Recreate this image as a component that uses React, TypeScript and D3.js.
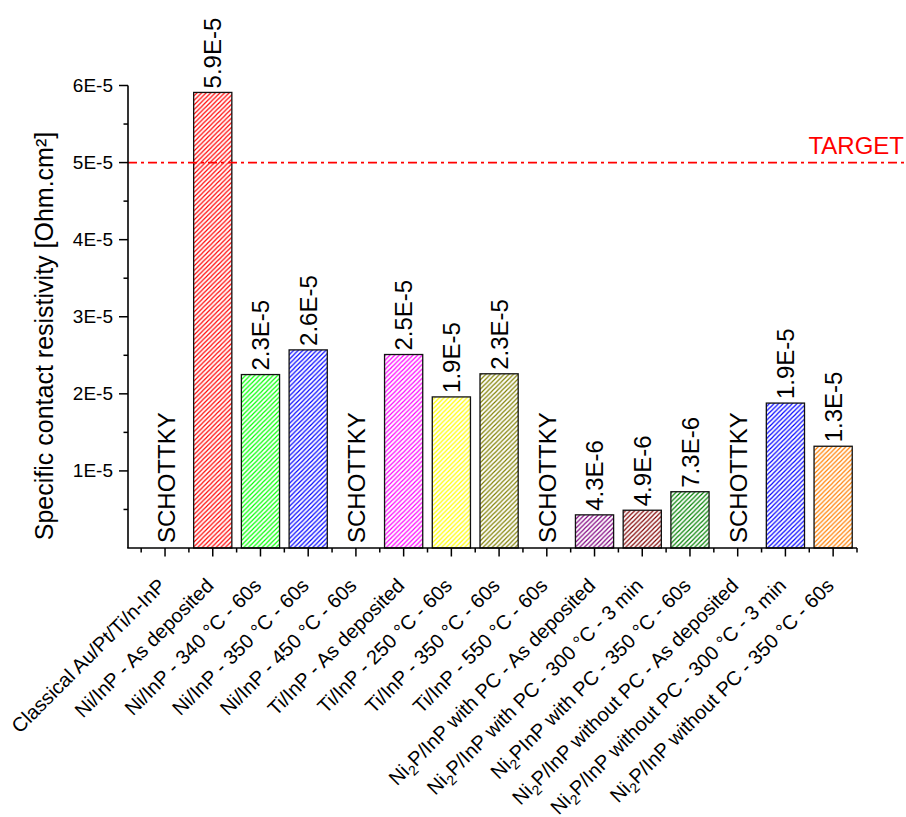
import React from "react";
import * as d3 from "d3";

const categories: string[] = [
  "Classical Au/Pt/Ti/n-InP",
  "Ni/InP - As deposited",
  "Ni/InP - 340 °C - 60s",
  "Ni/InP - 350 °C - 60s",
  "Ni/InP - 450 °C - 60s",
  "Ti/InP - As deposited",
  "Ti/InP - 250 °C - 60s",
  "Ti/InP - 350 °C - 60s",
  "Ti/InP - 550 °C - 60s",
  "Ni2P/InP with PC - As deposited",
  "Ni2P/InP with PC - 300 °C - 3 min",
  "Ni2PInP with PC - 350 °C - 60s",
  "Ni2P/InP without PC - As deposited",
  "Ni2P/InP without PC - 300 °C - 3 min",
  "Ni2P/InP without PC - 350 °C - 60s",
];

// null = Schottky behaviour (no bar)
const values: (number | null)[] = [
  null, 5.91e-5, 2.25e-5, 2.57e-5, null, 2.51e-5, 1.96e-5, 2.26e-5,
  null, 4.3e-6, 4.9e-6, 7.3e-6, null, 1.88e-5, 1.32e-5,
];

const valueLabels: string[] = [
  "SCHOTTKY", "5.9E-5", "2.3E-5", "2.6E-5", "SCHOTTKY", "2.5E-5", "1.9E-5", "2.3E-5",
  "SCHOTTKY", "4.3E-6", "4.9E-6", "7.3E-6", "SCHOTTKY", "1.9E-5", "1.3E-5",
];

const barColors: string[] = [
  "none", "#FF0000", "#00FF00", "#0000FF", "none", "#FF00FF", "#FFFF00", "#808000",
  "none", "#800080", "#800000", "#008000", "none", "#0000FF", "#FF8000",
];

const yTicks: number[] = [1e-5, 2e-5, 3e-5, 4e-5, 5e-5, 6e-5];
const yTickLabels: string[] = ["1E-5", "2E-5", "3E-5", "4E-5", "5E-5", "6E-5"];
const targetValue = 5e-5;
const targetLabel = "TARGET";
const yTitle = "Specific contact resistivity [Ohm.cm²]";

const FONT = "'Liberation Sans', Arial, Helvetica, sans-serif";

function CatLabel({ text }: { text: string }) {
  if (text.startsWith("Ni2P")) {
    const rest = text.slice(4);
    return (
      <>
        <tspan>Ni</tspan>
        <tspan fontSize={14} dy={5}>2</tspan>
        <tspan dy={-5}>{"P" + rest}</tspan>
      </>
    );
  }
  return <>{text}</>;
}

export default function App() {
  const W = 906;
  const H = 817;
  const x = d3.scaleLinear().domain([-0.776, 14.5]).range([128, 857]);
  const y = d3.scaleLinear().domain([0, 6e-5]).range([548, 85.5]);
  const step = x(1) - x(0);
  const bw = 0.8 * step;
  const idx = d3.range(categories.length);
  const xMinor = d3.range(-0.5, 14.51, 1);
  const yMinor = d3.range(0.5e-5, 6e-5, 1e-5);
  const s = 4.6;

  return (
    <svg
      width={W}
      height={H}
      style={{ position: "absolute", left: 0, top: 0, background: "#fff" }}
      fontFamily={FONT}
    >
      <defs>
        {barColors.map((c, i) =>
          c === "none" ? null : (
            <pattern
              key={i}
              id={`hatch-${i}`}
              patternUnits="userSpaceOnUse"
              width={s}
              height={s}
            >
              <rect width={s} height={s} fill="#fff" />
              <path
                d={`M0,${s} L${s},0 M${-s / 2},${s / 2} L${s / 2},${-s / 2} M${s / 2},${s * 1.5} L${s * 1.5},${s / 2}`}
                stroke={c}
                strokeWidth={1.15}
              />
            </pattern>
          )
        )}
      </defs>

      {/* bars */}
      {idx.map((i) => {
        const v = values[i];
        if (v == null) return null;
        return (
          <rect
            key={i}
            x={x(i) - bw / 2}
            y={y(v)}
            width={bw}
            height={y(0) - y(v)}
            fill={`url(#hatch-${i})`}
            stroke="#111"
            strokeWidth={1.3}
          />
        );
      })}

      {/* value labels */}
      {idx.map((i) => {
        const v = values[i];
        const cx = x(i);
        if (v == null) {
          return (
            <text
              key={i}
              transform={`translate(${cx + 9.5},${y(0) - 5}) rotate(-90)`}
              fontSize={24}
              fill="#000"
            >
              {valueLabels[i]}
            </text>
          );
        }
        return (
          <text
            key={i}
            transform={`translate(${cx + 8.6},${y(v) - 4}) rotate(-90)`}
            fontSize={24}
            fill="#000"
          >
            {valueLabels[i]}
          </text>
        );
      })}

      {/* target line */}
      <line
        x1={128}
        x2={904}
        y1={y(targetValue)}
        y2={y(targetValue)}
        stroke="#FF0000"
        strokeWidth={1.6}
        strokeDasharray="9 4 3 4"
      />
      <text x={904} y={y(targetValue) - 9} textAnchor="end" fontSize={24} fill="#FF0000">
        {targetLabel}
      </text>

      {/* axes */}
      <line x1={128} x2={128} y1={y(0)} y2={y(6e-5)} stroke="#000" strokeWidth={1.6} />
      <line x1={127.2} x2={857} y1={y(0)} y2={y(0)} stroke="#000" strokeWidth={1.6} />

      {yTicks.map((t, i) => (
        <g key={t}>
          <line x1={119} x2={128} y1={y(t)} y2={y(t)} stroke="#000" strokeWidth={1.5} />
          <text x={113} y={y(t) + 6.5} textAnchor="end" fontSize={19} fill="#000">
            {yTickLabels[i]}
          </text>
        </g>
      ))}
      {yMinor.map((t) => (
        <line key={t} x1={123.5} x2={128} y1={y(t)} y2={y(t)} stroke="#000" strokeWidth={1.5} />
      ))}

      {idx.map((i) => (
        <line key={i} x1={x(i)} x2={x(i)} y1={y(0)} y2={y(0) + 8.5} stroke="#000" strokeWidth={1.5} />
      ))}
      {xMinor.map((t) => (
        <line key={t} x1={x(t)} x2={x(t)} y1={y(0)} y2={y(0) + 4.5} stroke="#000" strokeWidth={1.5} />
      ))}

      {/* category labels */}
      {idx.map((i) => (
        <text
          key={i}
          transform={`translate(${x(i) + 2},${587}) rotate(-45)`}
          textAnchor="end"
          fontSize={20}
          fill="#000"
        >
          <CatLabel text={categories[i]} />
        </text>
      ))}

      {/* y title */}
      <text
        transform={`translate(53,${336}) rotate(-90)`}
        textAnchor="middle"
        fontSize={25}
        fill="#000"
      >
        {yTitle}
      </text>
    </svg>
  );
}
